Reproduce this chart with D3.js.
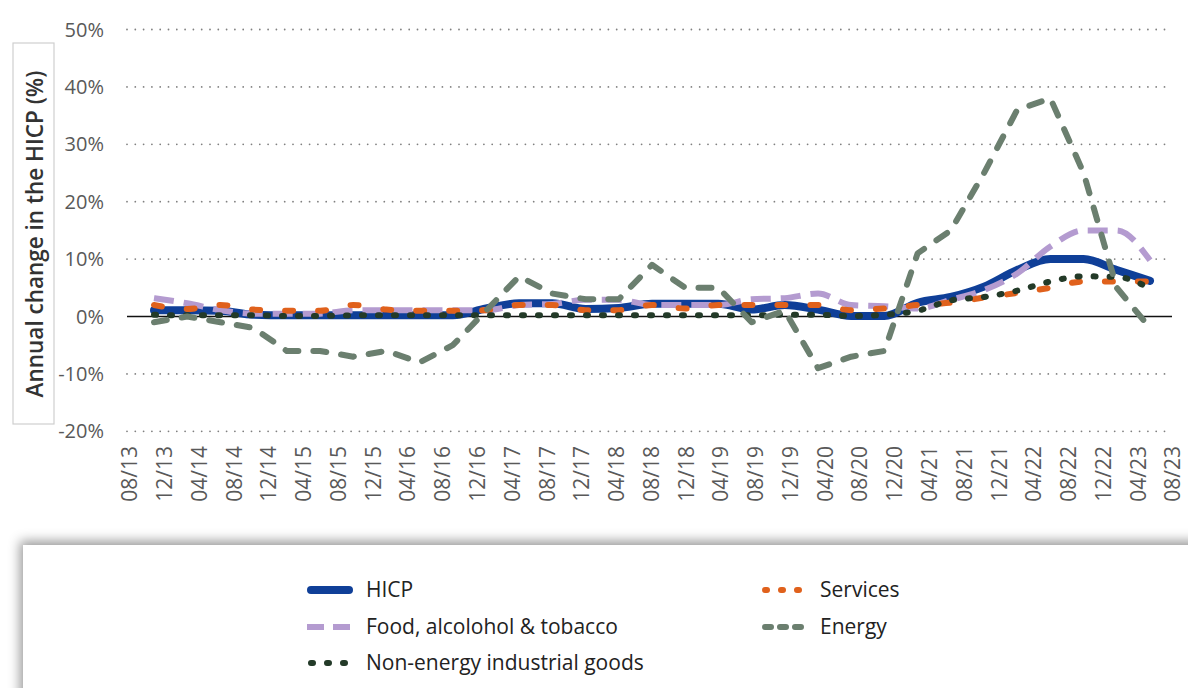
<!DOCTYPE html>
<html>
<head>
<meta charset="utf-8">
<script src="https://cdn.jsdelivr.net/npm/d3@7"></script>
<style>
  html, body { margin: 0; padding: 0; background: #fff; }
  svg { display: block; font-family: "Open Sans", "Noto Sans", sans-serif; }
</style>
</head>
<body>
<svg id="chart" width="1188" height="688"></svg>
<script>
// ---- Data ----
const periods = ["08/13","12/13","04/14","08/14","12/14","04/15","08/15","12/15","04/16","08/16",
  "12/16","04/17","08/17","12/17","04/18","08/18","12/18","04/19","08/19","12/19",
  "04/20","08/20","12/20","04/21","08/21","12/21","04/22","08/22","12/22","04/23","08/23"];

const hicp     = [1.1,1.1,1.0,0.3,0.2,0.2,0.2,0.2,0.2,0.2,1.4,2.3,2.3,1.3,1.5,2.2,2.2,2.2,1.2,2.0,1.2,0.1,0.1,2.4,3.4,5.2,8.1,10.0,10.0,8.1,6.2];
const food     = [3.2,2.3,1.1,0.5,0.5,0.5,1.1,1.1,1.1,1.1,1.1,2.0,2.2,2.9,2.9,2.0,2.0,2.0,3.0,3.2,4.0,2.0,1.8,1.4,2.9,4.6,7.5,12.2,15.0,15.0,9.8];
const services = [2.0,1.3,2.0,1.2,1.0,1.0,2.0,1.2,1.0,1.0,1.1,2.0,2.0,1.1,1.1,2.0,1.4,2.0,2.0,2.0,2.0,1.1,1.4,2.0,2.4,3.3,4.1,5.0,6.1,6.1,6.1];
const energy   = [-1,0,-1,-2,-6,-6,-7,-6,-8,-5,1,7,4,3,3,9,5,5,-1,1,-9,-7,-6,11,15,25,36,38,25,5,-2];
const neig     = [0.3,0.2,0.2,0.2,0.1,0.1,0.2,0.2,0.2,0.2,0.2,0.2,0.2,0.2,0.2,0.2,0.2,0.2,0.2,0.3,0.3,0.1,0.3,1.0,2.8,3.4,4.5,6.1,7.0,6.9,4.9];

const yTicks = [50,40,30,20,10,0,-10,-20];

const seriesNames = ["HICP","Food, alcolohol & tobacco","Non-energy industrial goods","Services","Energy"];

// ---- Setup ----
const svg = d3.select("#chart");

const y = d3.scaleLinear().domain([-20, 50]).range([431.3, 29.5]);
const xData = d3.scalePoint().domain(periods).range([154, 1150]);
const xLab  = d3.scalePoint().domain(periods).range([130, 1173]);

// Y title box
svg.append("rect").attr("x", 13).attr("y", 43).attr("width", 41).attr("height", 381)
  .attr("fill", "none").attr("stroke", "#cfcfcf").attr("stroke-width", 1.2);
svg.append("text")
  .attr("transform", "translate(43,234) rotate(-90)")
  .attr("text-anchor", "middle")
  .attr("font-size", 22.5).attr("font-weight", 600).attr("fill", "#333")
  .text("Annual change in the HICP (%)");

// Grid lines (dotted)
const grid = svg.append("g");
grid.selectAll("line").data(yTicks.filter(d => d !== 0)).join("line")
  .attr("x1", 127).attr("x2", 1166)
  .attr("y1", d => y(d)).attr("y2", d => y(d))
  .attr("stroke", "#808080").attr("stroke-width", 1.8)
  .attr("stroke-linecap", "round").attr("stroke-dasharray", "0 8.3");

// Y tick labels
svg.append("g").selectAll("text").data(yTicks).join("text")
  .attr("x", 104).attr("y", d => y(d)).attr("dy", "0.35em")
  .attr("text-anchor", "end").attr("font-size", 20).attr("fill", "#595959")
  .text(d => d + "%");

// Zero line
svg.append("line").attr("x1", 127).attr("x2", 1172)
  .attr("y1", y(0)).attr("y2", y(0)).attr("stroke", "#111").attr("stroke-width", 1.6);

// X labels
svg.append("g").selectAll("text").data(periods).join("text")
  .attr("transform", d => `translate(${xLab(d)},446) rotate(-90)`)
  .attr("dy", "0.35em").attr("text-anchor", "end")
  .attr("font-size", 21).attr("fill", "#595959")
  .text(d => d);

// Series
const styles = {
  hicp:     {color: "#0f3f98", width: 8,   dash: null,    cap: "round"},
  food:     {color: "#b49bd0", width: 6,   dash: "20 10", cap: "butt"},
  services: {color: "#e0611c", width: 6,   dash: "8 25",  cap: "round"},
  neig:     {color: "#233a28", width: 6,   dash: "2 14",  cap: "round"},
  energy:   {color: "#6b7f6f", width: 6,   dash: "13 15", cap: "round"}
};
const series = [
  {key: "hicp", values: hicp, curve: d3.curveMonotoneX},
  {key: "food", values: food, curve: d3.curveMonotoneX},
  {key: "services", values: services, curve: d3.curveMonotoneX},
  {key: "neig", values: neig, curve: d3.curveMonotoneX},
  {key: "energy", values: energy, curve: d3.curveLinear}
];
series.forEach(s => {
  const st = styles[s.key];
  const line = d3.line().x((d, i) => xData(periods[i])).y(d => y(d)).curve(s.curve);
  svg.append("path").datum(s.values)
    .attr("d", line)
    .attr("fill", "none")
    .attr("stroke", st.color)
    .attr("stroke-width", st.width)
    .attr("stroke-linecap", st.cap)
    .attr("stroke-linejoin", "round")
    .attr("stroke-dasharray", st.dash);
});

// Legend box with shadow
const defs = svg.append("defs");
const f = defs.append("filter").attr("id", "shadow").attr("x", "-5%").attr("y", "-30%").attr("width", "120%").attr("height", "160%");
f.append("feDropShadow").attr("dx", -3).attr("dy", -4).attr("stdDeviation", 6)
  .attr("flood-color", "#000").attr("flood-opacity", 0.4);
svg.append("rect").attr("x", 23).attr("y", 545).attr("width", 1200).attr("height", 200)
  .attr("fill", "#fff").attr("filter", "url(#shadow)");

const legendItems = [
  {key: "hicp", label: seriesNames[0], col: 0, row: 0},
  {key: "food", label: seriesNames[1], col: 0, row: 1},
  {key: "neig", label: seriesNames[2], col: 0, row: 2},
  {key: "services", label: seriesNames[3], col: 1, row: 0},
  {key: "energy", label: seriesNames[4], col: 1, row: 1}
];
const legendDash = {hicp: null, food: "17 9", neig: "2 14", services: "2 14", energy: "6 9"};
const colX = [307, 761], rowY = [590, 627, 663];
const lg = svg.append("g");
legendItems.forEach(it => {
  const st = styles[it.key];
  const x0 = colX[it.col], yy = rowY[it.row];
  const isRound = (it.key === "hicp" || it.key === "neig" || it.key === "services" || it.key === "energy");
  lg.append("line")
    .attr("x1", x0 + (isRound ? 4 : 0)).attr("x2", x0 + 46 - (isRound ? 4 : 0))
    .attr("y1", yy).attr("y2", yy)
    .attr("stroke", st.color).attr("stroke-width", it.key === "hicp" ? 8 : 6)
    .attr("stroke-linecap", isRound ? "round" : "butt")
    .attr("stroke-dasharray", legendDash[it.key]);
  lg.append("text").attr("x", x0 + 59).attr("y", yy).attr("dy", "0.35em")
    .attr("font-size", 21).attr("fill", "#222").text(it.label);
});
</script>
</body>
</html>
